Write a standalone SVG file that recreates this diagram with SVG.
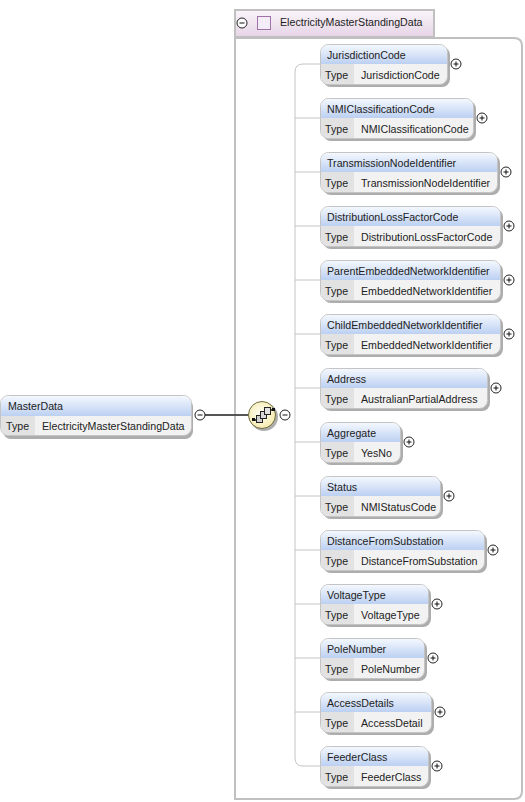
<svg xmlns="http://www.w3.org/2000/svg" width="525" height="802" viewBox="0 0 525 802">
<style>
text{font-family:"Liberation Sans",Arial,sans-serif;font-size:10.65px;fill:#222}
.shadow{fill:#adadad}
.body{fill:#f2f2f2;stroke:#c4c4c4;stroke-width:1}
.head{fill:url(#hg)}
.cell{fill:#e2e2e2}
.btn{fill:#fff;stroke:#222;stroke-width:1}
.sign{stroke:#111;stroke-width:1;fill:none}
.conn{fill:none;stroke:#c4c4c4;stroke-width:1}
</style>
<defs>
<linearGradient id="hg" x1="0" y1="0" x2="0" y2="1"><stop offset="0" stop-color="#f4f8fe"/><stop offset="1" stop-color="#bcd0f2"/></linearGradient>
<linearGradient id="tab" x1="0" y1="0" x2="0" y2="1"><stop offset="0" stop-color="#faf5fa"/><stop offset="1" stop-color="#e6d4e6"/></linearGradient>
<radialGradient id="seq" cx="0.45" cy="0.45" r="0.6"><stop offset="0" stop-color="#fffff4"/><stop offset="1" stop-color="#f4e9ac"/></radialGradient>
<g id="plus"><circle class="btn" r="5"/><path class="sign" d="M-2.500 0H2.500M0-2.500V2.500"/></g>
<g id="minus"><circle class="btn" r="5"/><path class="sign" d="M-2.500 0H2.500"/></g>
</defs>

<g id="container">
<path d="M235 38H514Q522 38 522 46V791Q522 799 514 799H235Z" fill="#fff" stroke="#c0c0c0" stroke-width="2"/>
<rect x="235" y="10" width="199" height="27" fill="url(#tab)" stroke="#c0c0c0" stroke-width="2"/>
<use href="#minus" x="242" y="23"/>
<rect x="257.500" y="16.500" width="13" height="13" fill="#f4ecf6" stroke="#a070a8"/>
<text x="280" y="26">ElectricityMasterStandingData</text>
</g>

<g id="connectors">
<path class="conn" d="M320 64H303Q295 64 295 72V758Q295 766 303 766H320"/>
<path class="conn" d="M295 118H320M295 172H320M295 226H320M295 280H320M295 334H320M295 388H320M295 442H320M295 496H320M295 550H320M295 604H320M295 658H320M295 712H320"/>
<path d="M205 415H248" fill="none" stroke="#555" stroke-width="2"/>
</g>

<g id="MasterData">
<rect class="shadow" x="3" y="399" width="190" height="40" rx="8"/>
<rect class="body" x="0.500" y="395.500" width="191" height="40" rx="8"/>
<path class="head" d="M1 416V404Q1 396 9 396H183Q191 396 191 404V416Z"/>
<path class="cell" d="M1 416H35V435H9Q1 435 1 427Z"/>
<text x="8" y="410">MasterData</text><text x="6" y="430">Type</text><text x="42" y="430">ElectricityMasterStandingData</text>
<use href="#minus" x="200" y="415"/>
</g>

<g id="sequence">
<circle cx="264" cy="417" r="14" fill="#adadad"/>
<circle cx="262" cy="415" r="13.500" fill="url(#seq)" stroke="#6e6a3c"/>
<path d="M252 420H257M268 410H273" stroke="#111" stroke-width="1.500" fill="none"/>
<rect x="252" y="418" width="3" height="3" fill="#111"/>
<rect x="272" y="408" width="3" height="3" fill="#111"/>
<rect x="256.500" y="415.500" width="6" height="7" fill="#d0d0d0" stroke="#222"/>
<rect x="260.500" y="411.500" width="6" height="7" fill="#d8d8d8" stroke="#222"/>
<rect x="264.500" y="407.500" width="6" height="7" fill="#e2e2e2" stroke="#222"/>
<use href="#minus" x="285" y="415"/>
</g>

<g id="JurisdictionCode">
<rect class="shadow" x="323" y="47" width="127" height="40" rx="8"/><rect class="body" x="320.500" y="44.500" width="127" height="40" rx="8"/>
<path class="head" d="M321 64V53Q321 45 329 45H439Q447 45 447 53V64Z"/><path class="cell" d="M321 64H354V84H329Q321 84 321 76Z"/>
<text x="327" y="59">JurisdictionCode</text><text x="325" y="79">Type</text><text x="361" y="79">JurisdictionCode</text>
<use href="#plus" x="456" y="64"/>
</g>
<g id="NMIClassificationCode">
<rect class="shadow" x="323" y="101" width="153" height="40" rx="8"/><rect class="body" x="320.500" y="98.500" width="153" height="40" rx="8"/>
<path class="head" d="M321 118V107Q321 99 329 99H465Q473 99 473 107V118Z"/><path class="cell" d="M321 118H354V138H329Q321 138 321 130Z"/>
<text x="327" y="113">NMIClassificationCode</text><text x="325" y="133">Type</text><text x="361" y="133">NMIClassificationCode</text>
<use href="#plus" x="482" y="118"/>
</g>
<g id="TransmissionNodeIdentifier">
<rect class="shadow" x="323" y="155" width="177" height="40" rx="8"/><rect class="body" x="320.500" y="152.500" width="177" height="40" rx="8"/>
<path class="head" d="M321 172V161Q321 153 329 153H489Q497 153 497 161V172Z"/><path class="cell" d="M321 172H354V192H329Q321 192 321 184Z"/>
<text x="327" y="167">TransmissionNodeIdentifier</text><text x="325" y="187">Type</text><text x="361" y="187">TransmissionNodeIdentifier</text>
<use href="#plus" x="506" y="172"/>
</g>
<g id="DistributionLossFactorCode">
<rect class="shadow" x="323" y="209" width="180" height="40" rx="8"/><rect class="body" x="320.500" y="206.500" width="180" height="40" rx="8"/>
<path class="head" d="M321 226V215Q321 207 329 207H492Q500 207 500 215V226Z"/><path class="cell" d="M321 226H354V246H329Q321 246 321 238Z"/>
<text x="327" y="221">DistributionLossFactorCode</text><text x="325" y="241">Type</text><text x="361" y="241">DistributionLossFactorCode</text>
<use href="#plus" x="509" y="226"/>
</g>
<g id="ParentEmbeddedNetworkIdentifier">
<rect class="shadow" x="323" y="263" width="180" height="40" rx="8"/><rect class="body" x="320.500" y="260.500" width="180" height="40" rx="8"/>
<path class="head" d="M321 280V269Q321 261 329 261H492Q500 261 500 269V280Z"/><path class="cell" d="M321 280H354V300H329Q321 300 321 292Z"/>
<text x="327" y="275">ParentEmbeddedNetworkIdentifier</text><text x="325" y="295">Type</text><text x="361" y="295">EmbeddedNetworkIdentifier</text>
<use href="#plus" x="509" y="280"/>
</g>
<g id="ChildEmbeddedNetworkIdentifier">
<rect class="shadow" x="323" y="317" width="180" height="40" rx="8"/><rect class="body" x="320.500" y="314.500" width="180" height="40" rx="8"/>
<path class="head" d="M321 334V323Q321 315 329 315H492Q500 315 500 323V334Z"/><path class="cell" d="M321 334H354V354H329Q321 354 321 346Z"/>
<text x="327" y="329">ChildEmbeddedNetworkIdentifier</text><text x="325" y="349">Type</text><text x="361" y="349">EmbeddedNetworkIdentifier</text>
<use href="#plus" x="509" y="334"/>
</g>
<g id="Address">
<rect class="shadow" x="323" y="371" width="167" height="40" rx="8"/><rect class="body" x="320.500" y="368.500" width="167" height="40" rx="8"/>
<path class="head" d="M321 388V377Q321 369 329 369H479Q487 369 487 377V388Z"/><path class="cell" d="M321 388H354V408H329Q321 408 321 400Z"/>
<text x="327" y="383">Address</text><text x="325" y="403">Type</text><text x="361" y="403">AustralianPartialAddress</text>
<use href="#plus" x="496" y="388"/>
</g>
<g id="Aggregate">
<rect class="shadow" x="323" y="425" width="80" height="40" rx="8"/><rect class="body" x="320.500" y="422.500" width="80" height="40" rx="8"/>
<path class="head" d="M321 442V431Q321 423 329 423H392Q400 423 400 431V442Z"/><path class="cell" d="M321 442H354V462H329Q321 462 321 454Z"/>
<text x="327" y="437">Aggregate</text><text x="325" y="457">Type</text><text x="361" y="457">YesNo</text>
<use href="#plus" x="409" y="442"/>
</g>
<g id="Status">
<rect class="shadow" x="323" y="479" width="120" height="40" rx="8"/><rect class="body" x="320.500" y="476.500" width="120" height="40" rx="8"/>
<path class="head" d="M321 496V485Q321 477 329 477H432Q440 477 440 485V496Z"/><path class="cell" d="M321 496H354V516H329Q321 516 321 508Z"/>
<text x="327" y="491">Status</text><text x="325" y="511">Type</text><text x="361" y="511">NMIStatusCode</text>
<use href="#plus" x="449" y="496"/>
</g>
<g id="DistanceFromSubstation">
<rect class="shadow" x="323" y="533" width="164" height="40" rx="8"/><rect class="body" x="320.500" y="530.500" width="164" height="40" rx="8"/>
<path class="head" d="M321 550V539Q321 531 329 531H476Q484 531 484 539V550Z"/><path class="cell" d="M321 550H354V570H329Q321 570 321 562Z"/>
<text x="327" y="545">DistanceFromSubstation</text><text x="325" y="565">Type</text><text x="361" y="565">DistanceFromSubstation</text>
<use href="#plus" x="493" y="550"/>
</g>
<g id="VoltageType">
<rect class="shadow" x="323" y="587" width="108" height="40" rx="8"/><rect class="body" x="320.500" y="584.500" width="108" height="40" rx="8"/>
<path class="head" d="M321 604V593Q321 585 329 585H420Q428 585 428 593V604Z"/><path class="cell" d="M321 604H354V624H329Q321 624 321 616Z"/>
<text x="327" y="599">VoltageType</text><text x="325" y="619">Type</text><text x="361" y="619">VoltageType</text>
<use href="#plus" x="437" y="604"/>
</g>
<g id="PoleNumber">
<rect class="shadow" x="323" y="641" width="104" height="40" rx="8"/><rect class="body" x="320.500" y="638.500" width="104" height="40" rx="8"/>
<path class="head" d="M321 658V647Q321 639 329 639H416Q424 639 424 647V658Z"/><path class="cell" d="M321 658H354V678H329Q321 678 321 670Z"/>
<text x="327" y="653">PoleNumber</text><text x="325" y="673">Type</text><text x="361" y="673">PoleNumber</text>
<use href="#plus" x="433" y="658"/>
</g>
<g id="AccessDetails">
<rect class="shadow" x="323" y="695" width="111" height="40" rx="8"/><rect class="body" x="320.500" y="692.500" width="111" height="40" rx="8"/>
<path class="head" d="M321 712V701Q321 693 329 693H423Q431 693 431 701V712Z"/><path class="cell" d="M321 712H354V732H329Q321 732 321 724Z"/>
<text x="327" y="707">AccessDetails</text><text x="325" y="727">Type</text><text x="361" y="727">AccessDetail</text>
<use href="#plus" x="440" y="712"/>
</g>
<g id="FeederClass">
<rect class="shadow" x="323" y="749" width="108" height="40" rx="8"/><rect class="body" x="320.500" y="746.500" width="108" height="40" rx="8"/>
<path class="head" d="M321 766V755Q321 747 329 747H420Q428 747 428 755V766Z"/><path class="cell" d="M321 766H354V786H329Q321 786 321 778Z"/>
<text x="327" y="761">FeederClass</text><text x="325" y="781">Type</text><text x="361" y="781">FeederClass</text>
<use href="#plus" x="437" y="766"/>
</g>
</svg>
